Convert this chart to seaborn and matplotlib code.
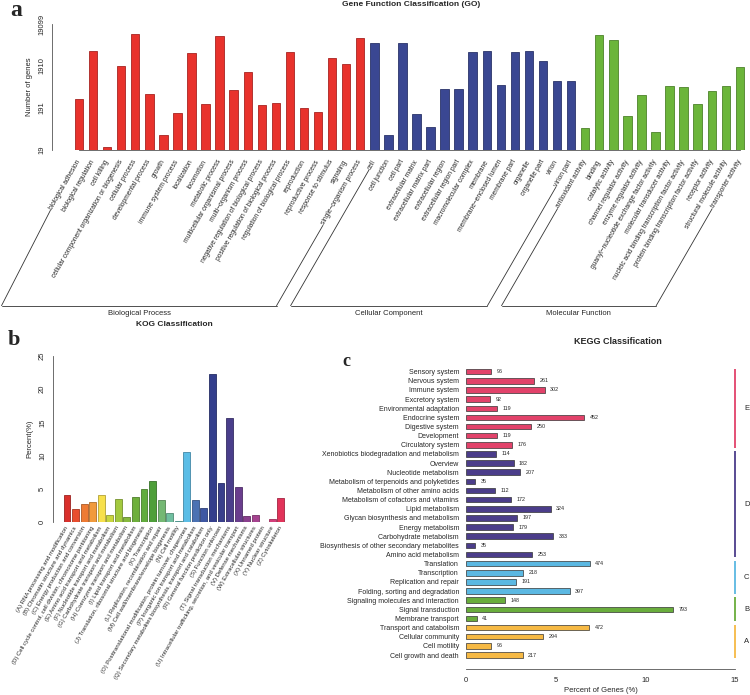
import matplotlib
matplotlib.use("Agg")
import matplotlib.pyplot as plt
import matplotlib.colors as mcolors
import matplotlib.transforms as mtransforms
from matplotlib.lines import Line2D
from matplotlib.ticker import NullLocator
import numpy as np
import pandas as pd
import seaborn as sns

sns.set_style("white")
plt.rcParams["font.family"] = ["Liberation Sans", "DejaVu Sans"]
plt.rcParams["axes.linewidth"] = 0.6

W, H = 750, 695

# ---------------- data: GO ----------------
bp_terms = ["biological adhesion", "biological regulation", "cell killing",
            "cellular component organization or biogenesis", "cellular process",
            "developmental process", "growth", "immune system process", "localization",
            "locomotion", "metabolic process", "multicellular organismal process",
            "multi\u2212organism process", "negative regulation of biological process",
            "positive regulation of biological process", "regulation of biological process",
            "reproduction", "reproductive process", "response to stimulus", "signaling",
            "single\u2212organism process"]
bp_counts = [311, 4250, 22, 1900, 10970, 404, 44, 142, 3880, 236, 9770, 512,
             1365, 224, 245, 4050, 193, 151, 3000, 2080, 8730]

cc_terms = ["cell", "cell junction", "cell part", "extracellular matrix",
            "extracellular matrix part", "extracellular region", "extracellular region part",
            "macromolecular complex", "membrane", "membrane\u2212enclosed lumen",
            "membrane part", "organelle", "organelle part", "virion", "virion part"]
cc_counts = [6710, 44, 6710, 137, 67, 530, 530, 4150, 4310, 670, 4050, 4460, 2510, 835, 835]

mf_terms = ["antioxidant activity", "binding", "catalytic activity",
            "channel regulator activity", "enzyme regulator activity",
            "guanyl\u2212nucleotide exchange factor activity", "molecular transducer activity",
            "nucleic acid binding transcription factor activity",
            "protein binding transcription factor activity", "receptor activity",
            "structural molecule activity", "transporter activity"]
mf_counts = [64, 10200, 7760, 123, 380, 50, 625, 590, 233, 490, 625, 1850]

go_group_names = ["Biological Process", "Cellular Component", "Molecular Function"]
go_colors = {"Biological Process": "#E8322C", "Cellular Component": "#3A4792",
             "Molecular Function": "#6BB53A"}
go_yticks = [19, 191, 1910, 19099]

# ---------------- data: KOG ----------------
kog_labels = [
    "(A) RNA processing and modification",
    "(B) Chromatin structure and dynamics",
    "(C) Energy production and conversion",
    "(D) Cell cycle control, cell division, chromosome partitioning",
    "(E) Amino acid transport and metabolism",
    "(F) Nucleotide transport and metabolism",
    "(G) Carbohydrate transport and metabolism",
    "(H) Coenzyme transport and metabolism",
    "(I) Lipid transport and metabolism",
    "(J) Translation, ribosomal structure and biogenesis",
    "(K) Transcription",
    "(L) Replication, recombination and repair",
    "(M) Cell wall/membrane/envelope biogenesis",
    "(N) Cell motility",
    "(O) Posttranslational modification, protein turnover, chaperones",
    "(P) Inorganic ion transport and metabolism",
    "(Q) Secondary metabolites biosynthesis, transport and catabolism",
    "(R) General function prediction only",
    "(S) Function unknown",
    "(T) Signal transduction mechanisms",
    "(U) Intracellular trafficking, secretion, and vesicular transport",
    "(V) Defense mechanisms",
    "(W) Extracellular structures",
    "(X) Unnamed protein",
    "(Y) Nuclear structure",
    "(Z) Cytoskeleton"]
kog_percent = [4.05, 2.0, 2.7, 3.0, 4.15, 1.05, 3.55, 0.75, 3.75, 5.0, 6.15, 3.3, 1.35,
               0.15, 10.5, 3.3, 2.2, 22.2, 5.95, 15.6, 5.25, 0.9, 1.05, 0.05, 0.45, 3.65]
kog_colors = ["#D9302C", "#E84D2E", "#EE7B33", "#F19A3C", "#F7E04B", "#C9D63E", "#A3C93F",
              "#86B93D", "#6EAF3C", "#62AD3D", "#4E9F3A", "#74B873", "#70BFA0", "#5BBCB5",
              "#5BBDE6", "#4B72B3", "#3E57A3", "#333E8C", "#393F8C", "#4A3E8B", "#6A3D8D",
              "#8A3F8E", "#A5428F", "#BF428B", "#D43F7B", "#E2335A"]

# ---------------- data: KEGG ----------------
kegg_terms = ["Sensory system", "Nervous system", "Immune system", "Excretory system",
              "Environmental adaptation", "Endocrine system", "Digestive system",
              "Development", "Circulatory system",
              "Xenobiotics biodegradation and metabolism", "Overview", "Nucleotide metabolism",
              "Metabolism of terpenoids and polyketides", "Metabolism of other amino acids",
              "Metabolism of cofactors and vitamins", "Lipid metabolism",
              "Glycan biosynthesis and metabolism", "Energy metabolism",
              "Carbohydrate metabolism", "Biosynthesis of other secondary metabolites",
              "Amino acid metabolism",
              "Translation", "Transcription", "Replication and repair",
              "Folding, sorting and degradation",
              "Signaling molecules and interaction", "Signal transduction", "Membrane transport",
              "Transport and catabolism", "Cellular community", "Cell motility",
              "Cell growth and death"]
kegg_counts = [96, 261, 302, 92, 119, 452, 250, 119, 176,
               114, 182, 207, 35, 112, 172, 324, 197, 179, 333, 35, 253,
               474, 218, 191, 397,
               148, 793, 41,
               472, 294, 96, 217]
kegg_percent = [1.40, 3.80, 4.40, 1.34, 1.73, 6.59, 3.64, 1.73, 2.57,
                1.66, 2.65, 3.02, 0.51, 1.63, 2.51, 4.72, 2.87, 2.61, 4.85, 0.51, 3.69,
                6.91, 3.18, 2.78, 5.79,
                2.16, 11.56, 0.60,
                6.88, 4.29, 1.40, 3.16]
kegg_groups = ["E"] * 9 + ["D"] * 12 + ["C"] * 4 + ["B"] * 3 + ["A"] * 4
kegg_colors = {"E": "#E2426A", "D": "#4B3D8A", "C": "#5BB8E2", "B": "#69AD3C", "A": "#F6B944"}


def darker(c, f=0.72):
    r, g, b = mcolors.to_rgb(c)
    return (r * f, g * f, b * f)


def px_axes(fig, left, top, right, bottom):
    return fig.add_axes([left / W, 1 - bottom / H, (right - left) / W, (bottom - top) / H])


fig = plt.figure(figsize=(W / 100, H / 100), dpi=100)

# ================= panel a : GO =================
go = pd.DataFrame({
    "term": bp_terms + cc_terms + mf_terms,
    "count": bp_counts + cc_counts + mf_counts,
    "group": [go_group_names[0]] * len(bp_terms) + [go_group_names[1]] * len(cc_terms)
             + [go_group_names[2]] * len(mf_terms)})
n_go = len(go)

ax_a = px_axes(fig, 52.3, 24, 748.3, 150)
sns.barplot(data=go, x="term", y="count", hue="group", palette=go_colors, dodge=False,
            legend=False, width=0.6, saturation=1, ax=ax_a)
for p in ax_a.patches:
    p.set_edgecolor(darker(p.get_facecolor()))
    p.set_linewidth(0.6)
ax_a.set_yscale("log")
ax_a.set_ylim(19, 19099)
ax_a.set_xlim(-1.9, n_go - 0.4)
ax_a.set_yticks(go_yticks)
ax_a.set_yticklabels([str(v) for v in go_yticks], rotation=90, va="center", fontsize=5.5)
ax_a.yaxis.set_minor_locator(NullLocator())
ax_a.set_xticks(range(n_go))
ax_a.set_xticklabels(go["term"], rotation=60, ha="right", va="center",
                     rotation_mode="anchor", fontsize=4.8)
# the rotated labels sit a little to the right of their ticks
shift = mtransforms.ScaledTranslation(0.05, 0, fig.dpi_scale_trans)
for lab in ax_a.get_xticklabels():
    lab.set_transform(lab.get_transform() + shift)
ax_a.tick_params(axis="x", length=3, width=0.5, pad=4.5, color="#555555")
ax_a.tick_params(axis="y", length=3, width=0.5, pad=2, color="#555555")
ax_a.set_xlabel("")
ax_a.set_ylabel("Number of genes", fontsize=5.5, labelpad=4)
sns.despine(ax=ax_a)
ax_a.spines["bottom"].set_bounds(0, n_go - 1)
for s in ("left", "bottom"):
    ax_a.spines[s].set_color("#555555")

# ================= panel b : KOG =================
kog = pd.DataFrame({"label": kog_labels, "percent": kog_percent})
ax_b = px_axes(fig, 53, 355.7, 286, 522.3)
sns.barplot(data=kog, x="label", y="percent", hue="label", palette=kog_colors, dodge=False,
            legend=False, width=0.8, saturation=1, ax=ax_b)
for p in ax_b.patches:
    p.set_edgecolor(darker(p.get_facecolor()))
    p.set_linewidth(0.6)
ax_b.set_xlim(-1.64, len(kog_labels) - 0.4)
ax_b.set_ylim(0, 25)
ax_b.set_yticks(range(0, 26, 5))
ax_b.set_yticklabels([str(v) for v in range(0, 26, 5)], rotation=90, va="center", fontsize=5.5)
ax_b.set_xticks(range(len(kog_labels)))
ax_b.set_xticklabels(kog_labels, rotation=60, ha="right", va="center",
                     rotation_mode="anchor", fontsize=4.3)
ax_b.tick_params(axis="x", length=0, pad=3)
ax_b.tick_params(axis="y", length=3, width=0.5, pad=2, color="#555555")
ax_b.set_xlabel("")
ax_b.set_ylabel("Percent(%)", fontsize=5.5, labelpad=4)
sns.despine(ax=ax_b, bottom=True)
ax_b.spines["left"].set_color("#555555")

# ================= panel c : KEGG =================
kegg = pd.DataFrame({"term": kegg_terms, "percent": kegg_percent, "group": kegg_groups})
ax_c = px_axes(fig, 466, 360, 735, 669)
sns.barplot(data=kegg, x="percent", y="term", hue="group", palette=kegg_colors, dodge=False,
            legend=False, orient="h", width=0.6, saturation=1, ax=ax_c)
for p in ax_c.patches:
    p.set_edgecolor("#333333")
    p.set_linewidth(0.5)
ax_c.set_xlim(0, 15)
ax_c.set_ylim(len(kegg_terms) + 0.53, -1.28)
ax_c.set_xticks([0, 5, 10, 15])
ax_c.tick_params(axis="x", length=3, width=0.5, labelsize=5.5, pad=3, color="#555555")
ax_c.tick_params(axis="y", length=0, labelsize=5, pad=5)
ax_c.set_ylabel("")
ax_c.set_xlabel("Percent of Genes (%)", fontsize=5.5, labelpad=2)
sns.despine(ax=ax_c, left=True)
ax_c.spines["bottom"].set_color("#555555")
for i, (pct, cnt) in enumerate(zip(kegg_percent, kegg_counts)):
    ax_c.text(pct + 0.3, i, str(cnt), va="center", ha="left", fontsize=3.9)

# group bars on the right
for letter in ["E", "D", "C", "B", "A"]:
    idx = [i for i, g in enumerate(kegg_groups) if g == letter]
    y0, y1 = idx[0] - 0.3, idx[-1] + 0.3
    ax_c.plot([15, 15], [y0, y1], color=kegg_colors[letter], lw=1.3, clip_on=False,
              solid_capstyle="butt")
    ax_c.text(15.65, (y0 + y1) / 2, letter, fontsize=5.5, va="center", ha="center",
              clip_on=False)

# ================= titles and panel letters =================
fig.text(411 / W, 1 - 4.5 / H, "Gene Function Classification (GO)", fontsize=6,
         fontweight="bold", ha="center", va="center")
fig.text(174 / W, 1 - 324 / H, "KOG Classification", fontsize=6, fontweight="bold",
         ha="center", va="center")
fig.text(618 / W, 1 - 342 / H, "KEGG Classification", fontsize=6.5, fontweight="bold",
         ha="center", va="center")
for x, y, s, fs in [(16, 11, "a", 17), (14, 340, "b", 16), (346, 362, "c", 13)]:
    fig.text(x / W, 1 - y / H, s, fontsize=fs, fontweight="bold", ha="center", va="center",
             family=["Liberation Serif", "DejaVu Serif"])

# ================= GO group brackets =================
fig.canvas.draw()
renderer = fig.canvas.get_renderer()
labels_a = ax_a.get_xticklabels()
base_y = H - 305.7           # display y of the bracket baseline
ang = np.deg2rad(60)
h_txt = 4.8 * 100 / 72 * 1.15


def label_far_end(lab):
    bb = lab.get_window_extent(renderer)
    return bb.x0 + 0.433 * h_txt, bb.y0 + 0.25 * h_txt


starts = 0
for name, terms in zip(go_group_names, [bp_terms, cc_terms, mf_terms]):
    first, last = starts, starts + len(terms) - 1
    starts += len(terms)
    ends = []
    for k in (first, last):
        sx, sy = label_far_end(labels_a[k])
        sx -= 1.5 * np.cos(ang)
        sy -= 1.5 * np.sin(ang)
        ex = max(sx - (sy - base_y) / np.tan(ang), 1.5)
        fig.add_artist(Line2D([sx / W, ex / W], [sy / H, base_y / H], color="#333333",
                              lw=0.6, transform=fig.transFigure))
        ends.append(ex)
    fig.add_artist(Line2D([ends[0] / W, ends[1] / W], [base_y / H, base_y / H],
                          color="#333333", lw=0.6, transform=fig.transFigure))
    fig.text((ends[0] + ends[1]) / 2 / W, (base_y - 8) / H, name, fontsize=5.5,
             ha="center", va="center")

fig.savefig("out.png", dpi=100)
